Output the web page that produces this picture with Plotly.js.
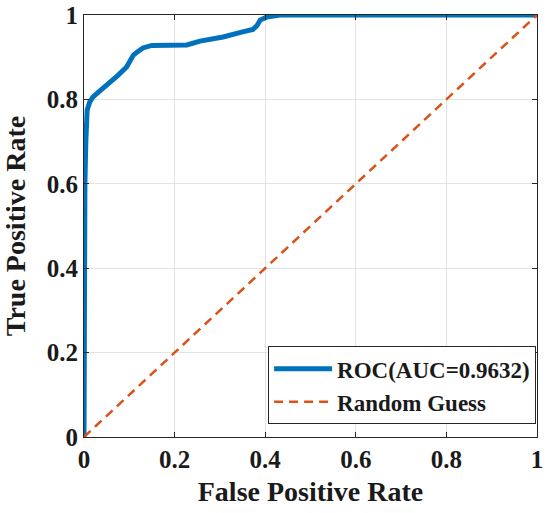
<!DOCTYPE html>
<html>
<head>
<meta charset="utf-8">
<script src="https://cdn.plot.ly/plotly-3.0.1.min.js"></script>
<style>html,body{margin:0;padding:0;background:#fff;}#chart{width:550px;height:513px;}</style>
</head>
<body>
<div id="chart"></div>
<script>
var fpr = [0, 0, 0.001, 0.002, 0.004, 0.007, 0.013, 0.02, 0.035, 0.057, 0.075, 0.094, 0.109, 0.117, 0.13, 0.15, 0.19, 0.227, 0.256, 0.307, 0.35, 0.373, 0.382, 0.389, 0.403, 0.433, 1];
var tpr = [0, 0.3, 0.5, 0.6, 0.7, 0.775, 0.795, 0.806, 0.82, 0.839, 0.857, 0.877, 0.905, 0.912, 0.922, 0.928, 0.929, 0.929, 0.938, 0.948, 0.96, 0.966, 0.975, 0.988, 0.995, 1, 1];
var guessX = [0, 1];
var guessY = [0, 1];
var tickVals = [0, 0.2, 0.4, 0.6, 0.8, 1];
var tickText = ['0', '0.2', '0.4', '0.6', '0.8', '1'];
var rocName = 'ROC(AUC=0.9632)';
var guessName = 'Random Guess';

var serif = '"Liberation Serif", "Times New Roman", serif';
var bold = function (s) { return '<b>' + s + '</b>'; };
var traces = [
  {x: fpr, y: tpr, mode: 'lines', name: bold(rocName),
   line: {color: '#0072BD', width: 5}},
  {x: guessX, y: guessY, mode: 'lines', name: bold(guessName),
   line: {color: '#D95319', width: 2.5, dash: '9px,6px'}}
];
function makeAxis(titleText, standoff) {
  return {
    range: [0, 1], tickmode: 'array', tickvals: tickVals, ticktext: tickText.map(bold),
    showgrid: true, gridcolor: '#e3e3e3', gridwidth: 1,
    zeroline: false, showline: true, linecolor: '#262626', linewidth: 1,
    mirror: 'ticks', ticks: 'inside', ticklen: 5, tickcolor: '#262626',
    tickfont: {family: serif, size: 25, color: '#1a1a1a'},
    title: {text: bold(titleText), font: {family: serif, size: 28, color: '#1a1a1a'}, standoff: standoff}
  };
}
var layout = {
  width: 550, height: 513,
  margin: {l: 84, r: 13, t: 15, b: 76},
  paper_bgcolor: '#fff', plot_bgcolor: '#fff',
  showlegend: true,
  font: {family: serif, size: 25},
  xaxis: makeAxis('False Positive Rate', 9),
  yaxis: makeAxis('True Positive Rate', 12),
  legend: {
    x: 0.998, xanchor: 'right', y: 0.03, yanchor: 'bottom',
    bgcolor: '#fff', bordercolor: '#262626', borderwidth: 1,
    font: {family: serif, size: 23, color: '#1a1a1a'},
    itemwidth: 58, tracegroupgap: 0
  }
};
Plotly.newPlot('chart', traces, layout, {displayModeBar: false, staticPlot: true});
</script>
</body>
</html>
